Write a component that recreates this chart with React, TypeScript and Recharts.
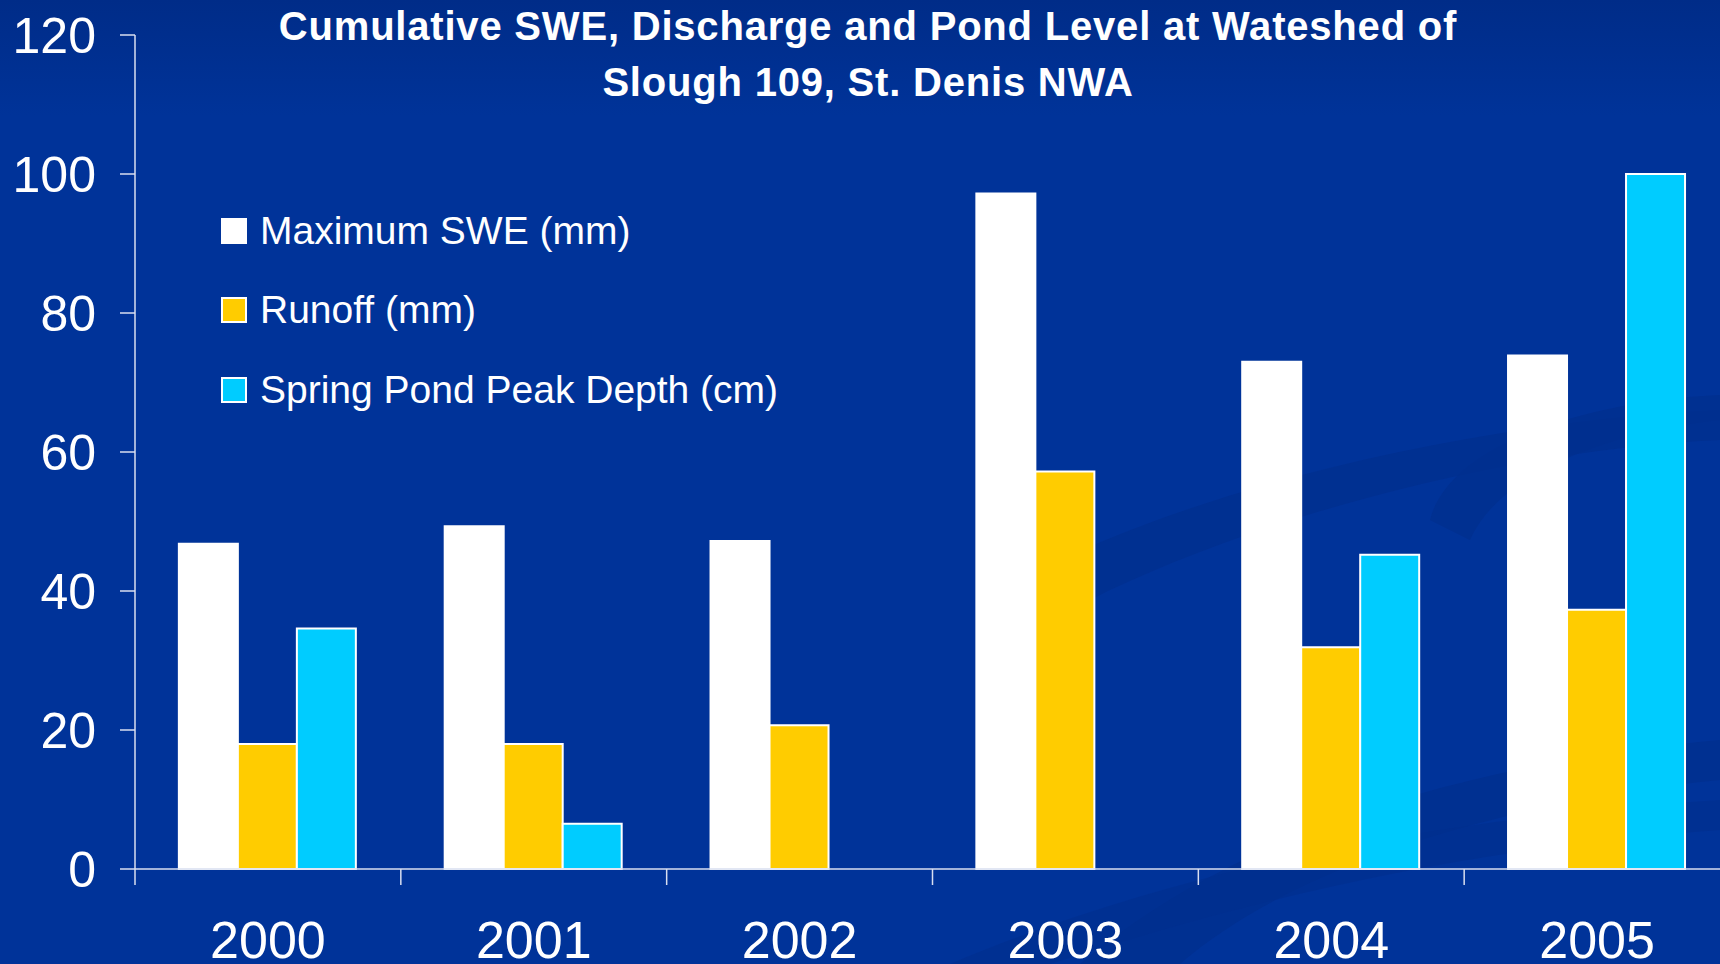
import React from "react";
import { BarChart, Bar, XAxis, YAxis, Legend } from "recharts";

const years = ["2000", "2001", "2002", "2003", "2004", "2005"];
const maxSwe = [46.8, 49.3, 47.2, 97.2, 73.0, 73.9];
const runoff = [18.0, 18.0, 20.7, 57.2, 31.9, 37.3];
const pondDepth: (number | null)[] = [34.6, 6.5, null, null, 45.2, 100];
const yTicks = [0, 20, 40, 60, 80, 100, 120];

const seriesNames = ["Maximum SWE (mm)", "Runoff (mm)", "Spring Pond Peak Depth (cm)"];
const seriesColors = ["#FFFFFF", "#FFCC00", "#00CCFF"];

const data = years.map((y, i) => ({
  year: y,
  swe: maxSwe[i],
  runoff: runoff[i],
  pond: pondDepth[i],
}));

const W = 1740;
const H = 964;
const MARGIN = { top: 35, right: 10, left: 0, bottom: 0 };
const Y_AXIS_W = 135;
const X_AXIS_H = 95;
const PLOT_W = W - MARGIN.left - MARGIN.right - Y_AXIS_W;
const BAND = PLOT_W / years.length;
const FONT = "'Liberation Sans', Arial, Helvetica, sans-serif";
const AXIS_COLOR = "#d8dff0";
const TICK_SIZE = 16;

const XTick = (props: any) => {
  const { x, y, payload, index } = props;
  const axisY = y - TICK_SIZE;
  const left = x - BAND / 2;
  return (
    <g>
      <line x1={left} y1={axisY} x2={left} y2={axisY + TICK_SIZE} stroke={AXIS_COLOR} strokeWidth={1.5} />
      {index === years.length - 1 && (
        <line x1={x + BAND / 2} y1={axisY} x2={x + BAND / 2} y2={axisY + TICK_SIZE} stroke={AXIS_COLOR} strokeWidth={1.5} />
      )}
      <text x={x} y={axisY + 89} textAnchor="middle" fill="#FFFFFF" fontSize={52} fontFamily={FONT}>
        {payload.value}
      </text>
    </g>
  );
};

const LegendContent = (props: any) => {
  const { payload } = props;
  return (
    <div style={{ fontFamily: FONT }}>
      {(payload || []).map((p: any, i: number) => (
        <div key={i} style={{ display: "flex", alignItems: "center", height: 79.5 }}>
          <div
            style={{
              width: 26,
              height: 26,
              boxSizing: "border-box",
              background: p.color,
              border: "2px solid #FFFFFF",
              marginRight: 13,
            }}
          />
          <span style={{ color: "#FFFFFF", fontSize: 39, whiteSpace: "nowrap" }}>{p.value}</span>
        </div>
      ))}
    </div>
  );
};

export default function App() {
  return (
    <div
      style={{
        position: "absolute",
        left: 0,
        top: 0,
        width: 1720,
        height: 964,
        overflow: "hidden",
        background: "linear-gradient(180deg, #002c88 0%, #003399 12%, #003399 100%)",
        fontFamily: FONT,
      }}
    >
      <svg width={1720} height={964} style={{ position: "absolute", left: 0, top: 0 }}>
        <path d="M 1000 590 C 1200 480, 1500 420, 1720 410 L 1720 440 C 1500 450, 1250 520, 1090 600 Z" fill="#002f8e" opacity={0.8} />
        <path d="M 1430 520 C 1450 440, 1600 400, 1720 395 L 1720 420 C 1620 430, 1500 470, 1470 540 Z" fill="#002f8e" opacity={0.8} />
        <path d="M 1080 964 C 1250 820, 1500 760, 1720 740 L 1720 780 C 1520 800, 1300 860, 1180 964 Z" fill="#002f8e" opacity={0.8} />
        <path d="M 950 964 C 1150 880, 1400 820, 1720 800 L 1720 830 C 1450 850, 1250 900, 1050 964 Z" fill="#002f8e" opacity={0.6} />
      </svg>
      <div
        style={{
          position: "absolute",
          left: 0,
          top: -2,
          width: 1736,
          textAlign: "center",
          color: "#FFFFFF",
          fontWeight: "bold",
          fontSize: 40,
          letterSpacing: 0.8,
          lineHeight: "56px",
          zIndex: 2,
        }}
      >
        Cumulative SWE, Discharge and Pond Level at Wateshed of
        <br />
        Slough 109, St. Denis NWA
      </div>
      <div style={{ position: "absolute", left: 0, top: 0 }}>
        <BarChart width={W} height={H} data={data} margin={MARGIN} barCategoryGap="16.5%" barGap={0}>
          <XAxis
            dataKey="year"
            height={X_AXIS_H}
            axisLine={{ stroke: AXIS_COLOR, strokeWidth: 1.5 }}
            tickLine={false}
            tickSize={TICK_SIZE}
            tickMargin={0}
            interval={0}
            tick={<XTick />}
          />
          <YAxis
            width={Y_AXIS_W}
            domain={[0, 120]}
            ticks={yTicks}
            interval={0}
            axisLine={{ stroke: AXIS_COLOR, strokeWidth: 1.5 }}
            tickLine={{ stroke: AXIS_COLOR, strokeWidth: 1.5 }}
            tickSize={15}
            tickMargin={24}
            tick={{ fill: "#FFFFFF", fontSize: 50, fontFamily: FONT }}
          />
          <Legend
            layout="vertical"
            align="center"
            verticalAlign="middle"
            wrapperStyle={{ left: 221, top: 191, width: 600 }}
            content={<LegendContent />}
          />
          <Bar dataKey="swe" name={seriesNames[0]} fill={seriesColors[0]} stroke="#FFFFFF" strokeWidth={2} isAnimationActive={false} />
          <Bar dataKey="runoff" name={seriesNames[1]} fill={seriesColors[1]} stroke="#FFFFFF" strokeWidth={2} isAnimationActive={false} />
          <Bar dataKey="pond" name={seriesNames[2]} fill={seriesColors[2]} stroke="#FFFFFF" strokeWidth={2} isAnimationActive={false} />
        </BarChart>
      </div>
    </div>
  );
}
